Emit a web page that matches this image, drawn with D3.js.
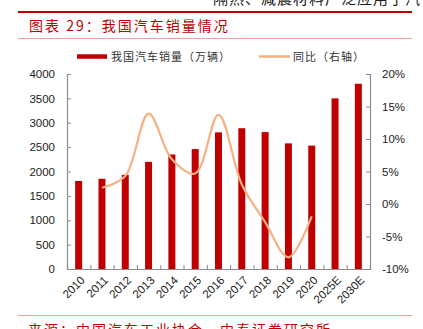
<!DOCTYPE html>
<html>
<head>
<meta charset="utf-8">
<script src="https://cdn.jsdelivr.net/npm/d3@7"></script>
<style>
  html, body { margin: 0; padding: 0; background: #fff; }
  svg { display: block; }
</style>
</head>
<body>
<svg id="chart" width="423" height="329"></svg>
<script>
// Annual car sales in China (10k units) and year-on-year growth (%)
const categories = ["2010", "2011", "2012", "2013", "2014", "2015", "2016", "2017", "2018", "2019", "2020", "2025E", "2030E"];
const sales = [1806, 1851, 1931, 2198, 2349, 2460, 2803, 2888, 2808, 2577, 2531, 3500, 3800];
const growthYears = ["2011", "2012", "2013", "2014", "2015", "2016", "2017", "2018", "2019", "2020"];
const growth = [2.5, 4.3, 13.9, 6.9, 4.7, 13.7, 3.0, -2.8, -8.2, -1.9];
const leftTicks = [0, 500, 1000, 1500, 2000, 2500, 3000, 3500, 4000];
const rightTicks = [-10, -5, 0, 5, 10, 15, 20];

const svg = d3.select("#chart");
const red = "#C00000";
const peach = "#F4B183";
const axisColor = "#8c8c8c";
const numFont = "'Liberation Sans', Arial, sans-serif";
const cjkFont = "'Noto Sans CJK SC', sans-serif";

const plot = { left: 67, right: 370, top: 74, bottom: 269 };

const x = d3.scaleBand().domain(categories).range([plot.left, plot.right]).paddingInner(0.7).paddingOuter(0.35);
const yL = d3.scaleLinear().domain([0, 4000]).range([plot.bottom, plot.top]);
const yR = d3.scaleLinear().domain([-10, 20]).range([plot.bottom, plot.top]);

// Running header of the page, partly above the top edge
svg.append("text").attr("x", 213).attr("y", 4)
  .attr("font-family", cjkFont).attr("font-size", 15).attr("fill", "#222")
  .attr("letter-spacing", 1)
  .text("隔热、减震材料广泛应用于汽");

// Title rules and title
svg.append("line").attr("x1", 18).attr("x2", 412).attr("y1", 12).attr("y2", 12)
  .attr("stroke", red).attr("stroke-width", 2);
svg.append("text").attr("x", 29).attr("y", 31)
  .attr("font-family", cjkFont).attr("font-size", 14).attr("fill", red)
  .attr("letter-spacing", 2)
  .text("图表 29：我国汽车销量情况");
svg.append("line").attr("x1", 18).attr("x2", 412).attr("y1", 38.5).attr("y2", 38.5)
  .attr("stroke", "#e8a0a0").attr("stroke-width", 1);

// Bars: sales volume
svg.append("g").selectAll("rect").data(sales).join("rect")
  .attr("x", (d, i) => x(categories[i]))
  .attr("width", x.bandwidth())
  .attr("y", d => yL(d))
  .attr("height", d => yL(0) - yL(d))
  .attr("fill", red);

// Smoothed YoY growth line on the right axis
const cx = c => x(c) + x.bandwidth() / 2;
const line = d3.line()
  .x((d, i) => cx(growthYears[i]))
  .y(d => yR(d))
  .curve(d3.curveCatmullRom.alpha(0.5));
svg.append("path").datum(growth)
  .attr("d", line)
  .attr("fill", "none")
  .attr("stroke", peach)
  .attr("stroke-width", 2.2);

// Axes with inward ticks
const leftAxis = svg.append("g").attr("transform", `translate(${plot.left},0)`)
  .call(d3.axisLeft(yL).tickValues(leftTicks).tickSize(-4).tickPadding(12).tickFormat(d3.format("d")));
const rightAxis = svg.append("g").attr("transform", `translate(${plot.right},0)`)
  .call(d3.axisRight(yR).tickValues(rightTicks).tickSize(-4).tickPadding(12).tickFormat(d => d + "%"));

// Category boundaries for the bottom axis ticks
const boundaryScale = d3.scaleLinear().domain([0, categories.length]).range([plot.left, plot.right]);
const bottomAxis = svg.append("g").attr("transform", `translate(0,${plot.bottom})`)
  .call(d3.axisBottom(boundaryScale).tickValues(d3.range(categories.length + 1)).tickSize(-4).tickFormat(""));

[leftAxis, rightAxis, bottomAxis].forEach(g => {
  g.select(".domain").attr("stroke", axisColor).attr("stroke-width", 1.2);
  g.selectAll(".tick line").attr("stroke", axisColor);
  g.selectAll("text").attr("font-family", numFont).attr("font-size", 11.5).attr("fill", "#222");
});

// Rotated category labels
svg.append("g").selectAll("text").data(categories).join("text")
  .attr("transform", d => `translate(${cx(d) + 4},${plot.bottom + 9}) rotate(-45)`)
  .attr("text-anchor", "end")
  .attr("dy", "0.35em")
  .attr("font-family", numFont).attr("font-size", 11.5).attr("fill", "#222")
  .text(d => d);

// Legend
svg.append("rect").attr("x", 77).attr("y", 54.3).attr("width", 30).attr("height", 4.5).attr("fill", red);
svg.append("text").attr("x", 111).attr("y", 61)
  .attr("font-family", cjkFont).attr("font-size", 11).attr("fill", "#333").attr("letter-spacing", 1)
  .text("我国汽车销量（万辆）");
svg.append("line").attr("x1", 259).attr("x2", 290).attr("y1", 56.5).attr("y2", 56.5)
  .attr("stroke", peach).attr("stroke-width", 2.5);
svg.append("text").attr("x", 293).attr("y", 61)
  .attr("font-family", cjkFont).attr("font-size", 11).attr("fill", "#333").attr("letter-spacing", 1)
  .text("同比（右轴）");

// Source note, running off the bottom edge
svg.append("line").attr("x1", 18).attr("x2", 412).attr("y1", 315.5).attr("y2", 315.5)
  .attr("stroke", "#e8a0a0").attr("stroke-width", 1);
svg.append("text").attr("x", 28).attr("y", 335)
  .attr("font-family", cjkFont).attr("font-size", 14).attr("fill", red).attr("letter-spacing", 2)
  .text("来源：中国汽车工业协会，中泰证券研究所");
</script>
</body>
</html>
